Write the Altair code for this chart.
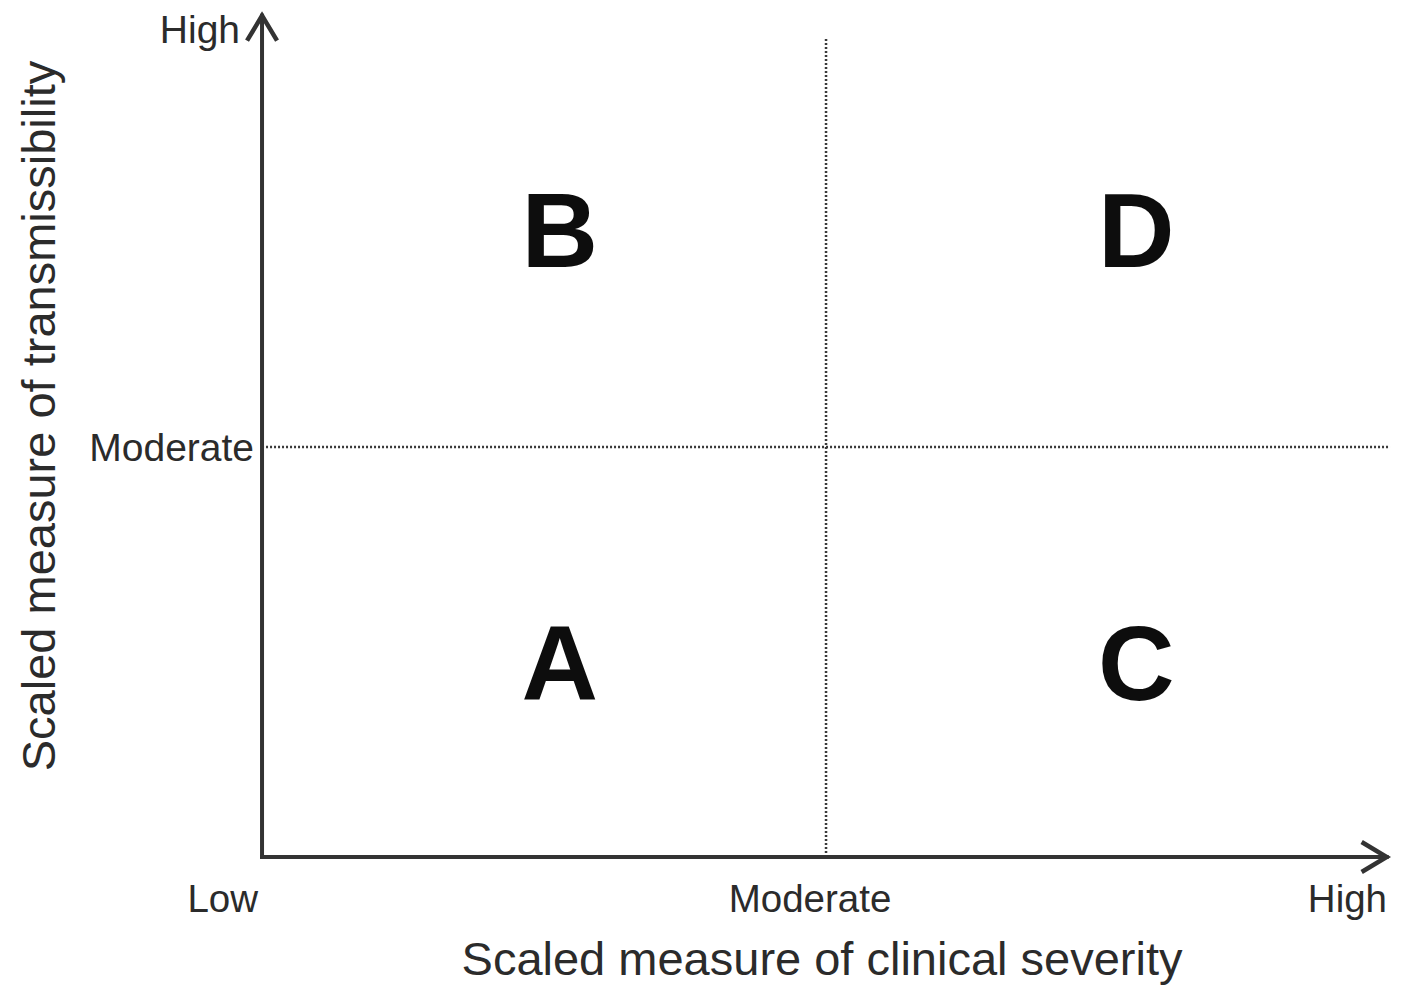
import altair as alt
import pandas as pd

# ---- data ----
x_tick_labels = ["Low", "Moderate", "High"]
x_tick_values = [0.0, 0.5, 1.0]
y_tick_labels = ["Moderate", "High"]
y_tick_values = [0.5, 1.0]
quadrant_labels = ["A", "B", "C", "D"]
quadrant_x = [0.264, 0.264, 0.775, 0.775]
quadrant_y = [0.238, 0.766, 0.238, 0.766]
threshold_x = 0.5
threshold_y = 0.5
x_title = "Scaled measure of clinical severity"
y_title = "Scaled measure of transmissibility"

# axis extents (data units)
x_axis_end = 0.997
y_axis_end = 1.026
guide_end = 1.0

# ---- styling ----
W, H = 1387, 978
FONT = "Liberation Sans"
TEXT = "#2b2b2b"
AXIS = "#333333"
DOT = "#3a3a3a"

xscale = alt.Scale(domain=[-0.2252, 1.0044], nice=False, zero=False)
yscale = alt.Scale(domain=[-0.1573, 1.0354], nice=False, zero=False)


def X(f):
    return alt.X(f, type="quantitative", scale=xscale, axis=None)


def Y(f):
    return alt.Y(f, type="quantitative", scale=yscale, axis=None)


layers = []

# dotted threshold lines
vdot = pd.DataFrame({"x": [threshold_x], "y": [0.0], "y2": [guide_end]})
layers.append(
    alt.Chart(vdot).mark_rule(color=DOT, strokeWidth=2.5, strokeDash=[2, 2])
    .encode(x=X("x"), y=Y("y"), y2=alt.Y2("y2"))
)
hdot = pd.DataFrame({"y": [threshold_y], "x": [0.0], "x2": [guide_end]})
layers.append(
    alt.Chart(hdot).mark_rule(color=DOT, strokeWidth=2.5, strokeDash=[2, 2])
    .encode(y=Y("y"), x=X("x"), x2=alt.X2("x2"))
)

# axis lines
yax = pd.DataFrame({"x": [0.0], "y": [0.0], "y2": [y_axis_end]})
layers.append(
    alt.Chart(yax).mark_rule(color=AXIS, strokeWidth=4, strokeCap="square")
    .encode(x=X("x"), y=Y("y"), y2=alt.Y2("y2"))
)
xax = pd.DataFrame({"y": [0.0], "x": [0.0], "x2": [x_axis_end]})
layers.append(
    alt.Chart(xax).mark_rule(color=AXIS, strokeWidth=4, strokeCap="square")
    .encode(y=Y("y"), x=X("x"), x2=alt.X2("x2"))
)

# arrow heads (open chevrons)
chevron = "M-1,-0.6L0,0L-1,0.6"
arr = pd.DataFrame({"x": [x_axis_end, 0.0], "y": [0.0, y_axis_end], "ang": [0, 270]})
layers.append(
    alt.Chart(arr).mark_point(shape=chevron, filled=False, size=2500, stroke=AXIS,
                              strokeWidth=4.5, strokeJoin="miter", opacity=1)
    .encode(x=X("x"), y=Y("y"),
            angle=alt.Angle("ang:Q", scale=alt.Scale(domain=[0, 360], range=[0, 360])))
)

# x tick labels
x_label_style = {"Low": ("right", -4), "Moderate": ("center", -16), "High": ("right", -3)}
for lab, val in zip(x_tick_labels, x_tick_values):
    al, dx = x_label_style[lab]
    d = pd.DataFrame({"x": [val], "y": [0.0], "t": [lab]})
    layers.append(
        alt.Chart(d).mark_text(font=FONT, fontSize=38.5, color=TEXT, align=al,
                               baseline="alphabetic", dx=dx, dy=55)
        .encode(x=X("x"), y=Y("y"), text="t:N")
    )

# y tick labels
y_label_style = {"Moderate": (-8, 2), "High": (-22, -6)}
for lab, val in zip(y_tick_labels, y_tick_values):
    dx, dy = y_label_style[lab]
    d = pd.DataFrame({"x": [0.0], "y": [val], "t": [lab]})
    layers.append(
        alt.Chart(d).mark_text(font=FONT, fontSize=39, color=TEXT, align="right",
                               baseline="middle", dx=dx, dy=dy)
        .encode(x=X("x"), y=Y("y"), text="t:N")
    )

# quadrant letters
quad = pd.DataFrame({"x": quadrant_x, "y": quadrant_y, "t": quadrant_labels})
layers.append(
    alt.Chart(quad).mark_text(font=FONT, fontSize=106, fontWeight="bold", color="#0d0d0d",
                              align="center", baseline="middle", dy=6)
    .encode(x=X("x"), y=Y("y"), text="t:N")
)

# axis titles
xt = pd.DataFrame({"x": [0.5], "y": [0.0], "t": [x_title]})
layers.append(
    alt.Chart(xt).mark_text(font=FONT, fontSize=47, color=TEXT, align="center",
                            baseline="alphabetic", dx=-4, dy=118)
    .encode(x=X("x"), y=Y("y"), text="t:N")
)
yt = pd.DataFrame({"x": [0.0], "y": [0.5], "t": [y_title]})
layers.append(
    alt.Chart(yt).mark_text(font=FONT, fontSize=47, color=TEXT, align="center",
                            baseline="alphabetic", angle=270, dx=31, dy=-207)
    .encode(x=X("x"), y=Y("y"), text="t:N")
)

chart = (
    alt.layer(*layers)
    .properties(width=W, height=H, padding=0, background="white",
                autosize=alt.AutoSizeParams(type="none"))
    .configure_view(stroke=None)
)

chart.save("out.html", embed_options={"renderer": "svg", "actions": False})
